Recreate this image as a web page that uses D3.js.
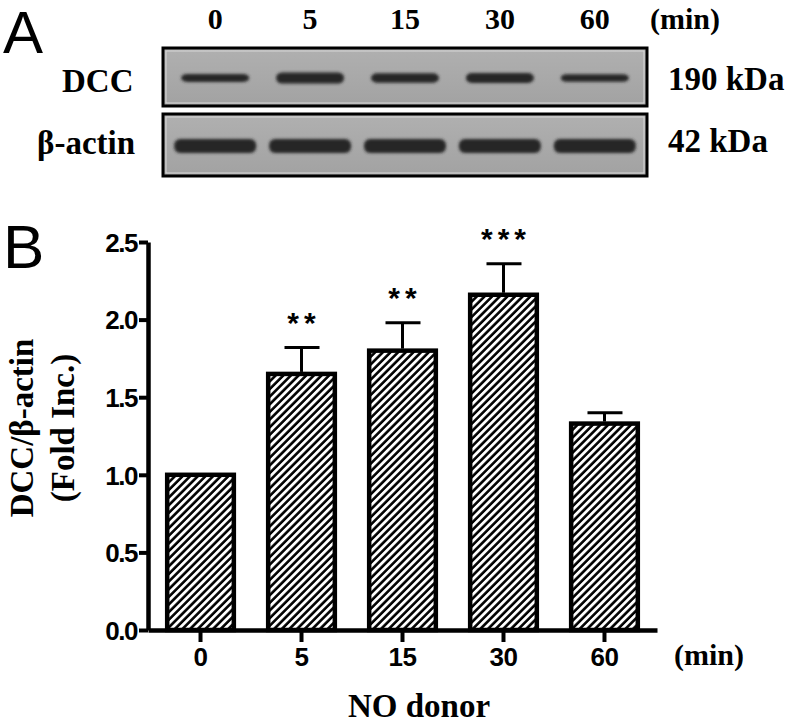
<!DOCTYPE html>
<html>
<head>
<meta charset="utf-8">
<script src="https://cdn.jsdelivr.net/npm/d3@7"></script>
<style>
  body { margin: 0; background: #fff; }
  svg { display: block; }
</style>
</head>
<body>
<svg width="796" height="727"></svg>
<script>
// time points (min)
var lanes = ["0", "5", "15", "30", "60"];
// DCC/beta-actin, fold increase
var foldInc = [1.0, 1.65, 1.80, 2.16, 1.33];
var sem = [0, 0.17, 0.18, 0.20, 0.07];
var stars = ["", "**", "**", "***", ""];
var yTicks = [0, 0.5, 1.0, 1.5, 2.0, 2.5];
// relative band strength on the blot
var dccBand = [0.72, 1.0, 0.85, 0.9, 0.7];
var actinBand = [1.0, 1.0, 1.0, 1.0, 1.0];

var svg = d3.select("svg"),
    width = +svg.attr("width"),
    height = +svg.attr("height");

var serif = "'Liberation Serif', 'Times New Roman', serif",
    sans = "'Liberation Sans', Arial, sans-serif";

var defs = svg.append("defs");
var hatch = defs.append("pattern")
    .attr("id", "hatch")
    .attr("patternUnits", "userSpaceOnUse")
    .attr("width", 5.4)
    .attr("height", 5.4)
    .attr("patternTransform", "rotate(45)");
hatch.append("rect").attr("width", 5.4).attr("height", 5.4).attr("fill", "#fff");
hatch.append("line")
    .attr("x1", 1.4).attr("y1", 0).attr("x2", 1.4).attr("y2", 5.4)
    .attr("stroke", "#000").attr("stroke-width", 2.6);

defs.append("filter").attr("id", "blur")
    .attr("x", "-20%").attr("y", "-60%").attr("width", "140%").attr("height", "220%")
  .append("feGaussianBlur").attr("stdDeviation", 1.6);

var bg = defs.append("linearGradient").attr("id", "blotbg")
    .attr("x1", 0).attr("y1", 0).attr("x2", 0).attr("y2", 1);
bg.append("stop").attr("offset", "0%").attr("stop-color", "#b0b0b0");
bg.append("stop").attr("offset", "100%").attr("stop-color", "#a2a2a2");

// ---------- panel A : blot ----------
svg.append("text").attr("x", 3).attr("y", 53)
    .style("font-family", sans).style("font-size", "60px")
    .text("A");

var lx = d3.scalePoint().domain(lanes).range([163, 647]).padding(0.55);

svg.append("g").selectAll("text")
    .data(lanes)
  .enter().append("text")
    .attr("x", function(d) { return lx(d); })
    .attr("y", 29)
    .attr("text-anchor", "middle")
    .style("font-family", serif).style("font-weight", "bold").style("font-size", "30px")
    .text(function(d) { return d; });

svg.append("text").attr("x", 650).attr("y", 29)
    .style("font-family", serif).style("font-weight", "bold").style("font-size", "30px")
    .text("(min)");

var blots = [
  {name: "DCC", size: "190 kDa", top: 48, h: 58, bandY: 78, bandH: 11, bandW: 68, vals: dccBand, labelX: 62, labelY: 92},
  {name: "β-actin", size: "42 kDa", top: 114, h: 62, bandY: 146, bandH: 14, bandW: 82, vals: actinBand, labelX: 37, labelY: 154}
];

blots.forEach(function(b) {
  var g = svg.append("g");
  g.append("rect")
      .attr("x", 163).attr("y", b.top).attr("width", 484).attr("height", b.h)
      .attr("fill", "url(#blotbg)")
      .attr("stroke", "#000").attr("stroke-width", 3);
  g.append("rect")
      .attr("x", 166).attr("y", b.top + 3).attr("width", 478).attr("height", b.h - 6)
      .attr("fill", "none").attr("stroke", "#d8d8d8").attr("stroke-width", 1);
  g.append("g").attr("filter", "url(#blur)")
    .selectAll("rect")
      .data(b.vals)
    .enter().append("rect")
      .attr("x", function(d, i) { return lx(lanes[i]) - b.bandW / 2; })
      .attr("y", function(d) { return b.bandY - b.bandH * d / 2; })
      .attr("width", b.bandW)
      .attr("height", function(d) { return b.bandH * d; })
      .attr("rx", 6)
      .attr("fill", "#252525");
  g.append("text").attr("x", b.labelX).attr("y", b.labelY)
      .style("font-family", serif).style("font-weight", "bold").style("font-size", "33px")
      .text(b.name);
  g.append("text").attr("x", 668).attr("y", b.labelY - 2)
      .style("font-family", serif).style("font-weight", "bold").style("font-size", "33px")
      .text(b.size);
});

// ---------- panel B : bar chart ----------
svg.append("text").attr("x", 3).attr("y", 268)
    .style("font-family", sans).style("font-size", "62px")
    .text("B");

var x = d3.scaleBand().domain(lanes).range([148, 657])
    .paddingInner(0.34).paddingOuter(0.19);
var y = d3.scaleLinear().domain([0, 2.5]).range([630, 242]);

var data = lanes.map(function(d, i) {
  return {lane: d, v: foldInc[i], e: sem[i], s: stars[i]};
});

var bars = svg.append("g");
bars.selectAll("rect")
    .data(data)
  .enter().append("rect")
    .attr("x", function(d) { return x(d.lane); })
    .attr("y", function(d) { return y(d.v); })
    .attr("width", x.bandwidth())
    .attr("height", function(d) { return y(0) - y(d.v); })
    .attr("fill", "url(#hatch)")
    .attr("stroke", "#000")
    .attr("stroke-width", 4.5);

var err = bars.selectAll("g.err")
    .data(data.filter(function(d) { return d.e > 0; }))
  .enter().append("g").attr("class", "err");
err.append("line")
    .attr("x1", function(d) { return x(d.lane) + x.bandwidth() / 2; })
    .attr("x2", function(d) { return x(d.lane) + x.bandwidth() / 2; })
    .attr("y1", function(d) { return y(d.v) - 2; })
    .attr("y2", function(d) { return y(d.v + d.e); })
    .attr("stroke", "#000").attr("stroke-width", 3);
err.append("line")
    .attr("x1", function(d) { return x(d.lane) + x.bandwidth() / 2 - 17; })
    .attr("x2", function(d) { return x(d.lane) + x.bandwidth() / 2 + 18; })
    .attr("y1", function(d) { return y(d.v + d.e); })
    .attr("y2", function(d) { return y(d.v + d.e); })
    .attr("stroke", "#000").attr("stroke-width", 3);

bars.selectAll("text.star")
    .data(data.filter(function(d) { return d.s; }))
  .enter().append("text")
    .attr("class", "star")
    .attr("x", function(d) { return x(d.lane) + x.bandwidth() / 2 + 2.5; })
    .attr("y", function(d) { return y(d.v + d.e) - 15; })
    .attr("text-anchor", "middle")
    .style("font-family", sans).style("font-weight", "bold").style("font-size", "30px")
    .style("letter-spacing", "5px")
    .text(function(d) { return d.s; });

var yAxis = svg.append("g")
    .attr("transform", "translate(148,0)")
    .call(d3.axisLeft(y).tickValues(yTicks).tickFormat(d3.format(".1f"))
      .tickSize(9).tickSizeOuter(0).tickPadding(2));
var xAxis = svg.append("g")
    .attr("transform", "translate(0,630)")
    .call(d3.axisBottom(x).tickSize(12).tickSizeOuter(0).tickPadding(6));

[yAxis, xAxis].forEach(function(a) {
  a.select(".domain").attr("stroke", "#000").attr("stroke-width", 4.5);
  a.selectAll(".tick line").attr("stroke", "#000").attr("stroke-width", 4);
  a.selectAll(".tick text")
      .attr("fill", "#000")
      .style("font-family", sans).style("font-weight", "bold").style("font-size", "26px")
      .style("letter-spacing", "-1.5px");
});
yAxis.selectAll(".tick text").attr("dy", "0.36em");
xAxis.selectAll(".tick text").style("letter-spacing", "-0.5px");

svg.append("text").attr("x", 674).attr("y", 665)
    .style("font-family", serif).style("font-weight", "bold").style("font-size", "30px")
    .text("(min)");

svg.append("text").attr("x", 419).attr("y", 717)
    .attr("text-anchor", "middle")
    .style("font-family", serif).style("font-weight", "bold").style("font-size", "33px")
    .text("NO donor");

svg.append("text")
    .attr("transform", "translate(33,428) rotate(-90)")
    .attr("text-anchor", "middle")
    .style("font-family", serif).style("font-weight", "bold").style("font-size", "33px")
    .text("DCC/β-actin");
svg.append("text")
    .attr("transform", "translate(74,428) rotate(-90)")
    .attr("text-anchor", "middle")
    .style("font-family", serif).style("font-weight", "bold").style("font-size", "33px")
    .text("(Fold Inc.)");
</script>
</body>
</html>
